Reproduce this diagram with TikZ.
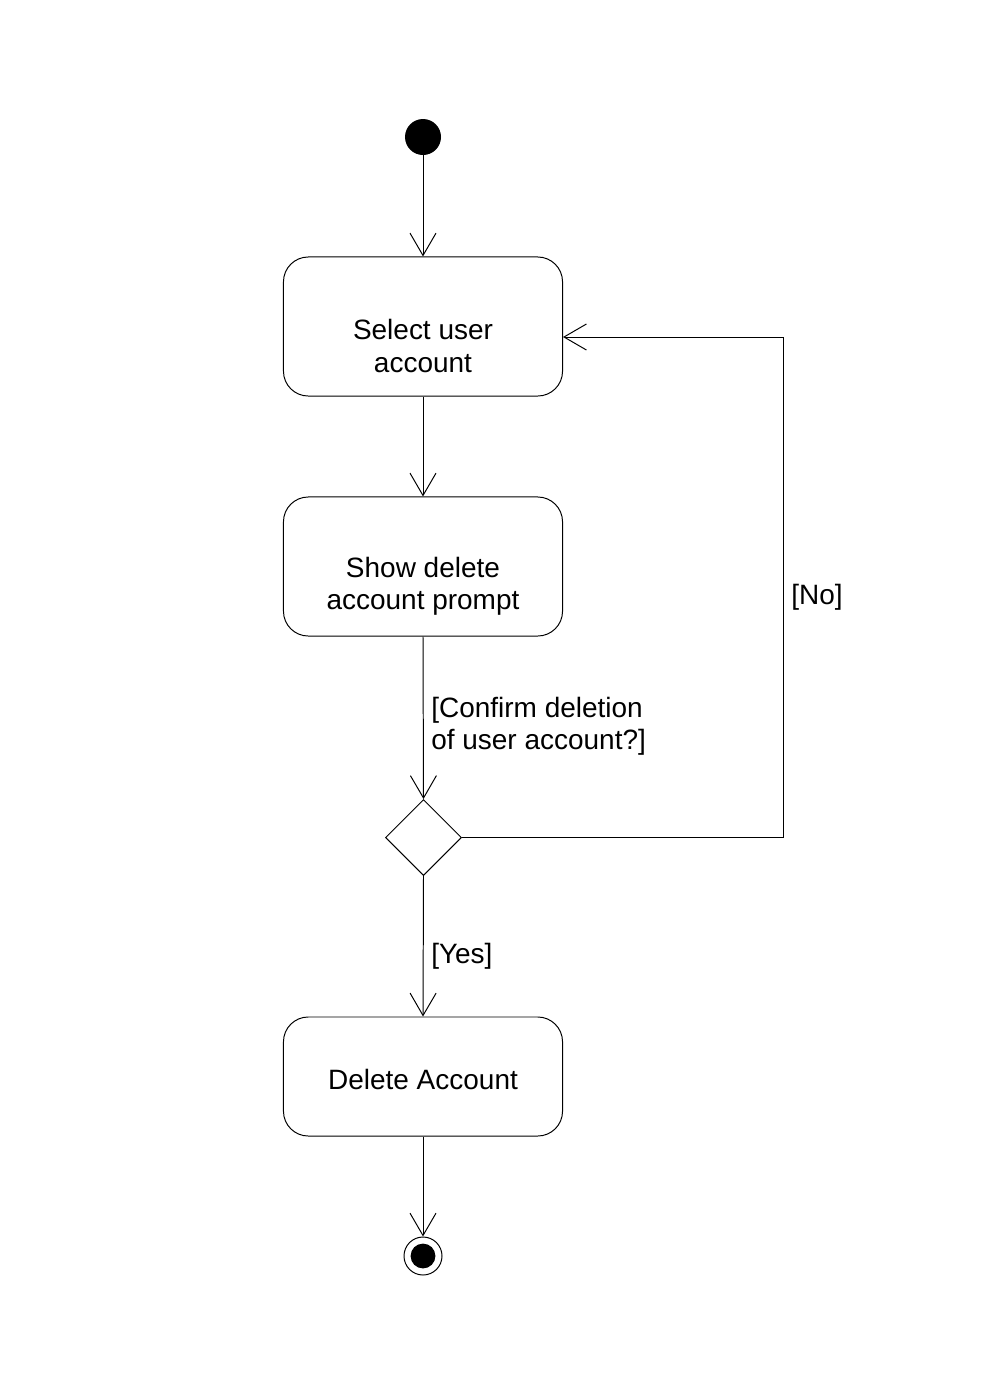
\documentclass[tikz,border=0pt]{standalone}
\usepackage{fontspec}
\setmainfont{Liberation Sans}
\usetikzlibrary{arrows.meta,shapes.geometric}
\begin{document}
\begin{tikzpicture}[x=0.025cm,y=-0.025cm,
  every node/.style={font=\fontsize{19.9}{22.8}\selectfont},
  line/.style={line width=0.7pt,black},
  flow/.style={line, -{Straight Barb[length=0.56cm,width=0.65cm,line width=0.7pt]}},
  actbox/.style={draw,line width=0.7pt,rounded corners=0.62cm,minimum width=6.975cm,minimum height=3.475cm,inner sep=0pt},
  txt/.style={align=center,inner sep=0pt},
  lbl/.style={align=left,inner sep=0pt,anchor=west}]
\useasboundingbox[fill=white] (0,0) rectangle (1007,1376);
\node[circle,fill=black,minimum size=0.9cm,inner sep=0pt] (init) at (423,137) {};
\node[actbox] (b1) at (423,326.5) {};
\node[txt] (t1) at (423,346) {Select user\\account};
\node[actbox] (b2) at (423,566.5) {};
\node[txt] (t2) at (423,586) {Show delete\\account prompt};
\node[diamond,draw,line width=0.7pt,minimum width=1.9cm,minimum height=1.9cm,inner sep=0pt] (dia) at (423.5,837.5) {};
\node[actbox,minimum height=2.975cm] (b3) at (423,1076.5) {};
\node[txt] (t3) at (423,1079) {Delete Account};
\node[circle,draw,line width=0.7pt,minimum size=0.95cm,inner sep=0pt] (fin) at (423,1256) {};
\node[circle,fill=black,minimum size=0.62cm,inner sep=0pt] (finin) at (423,1256) {};
\coordinate (c2) at (783,337);
\node[lbl] (lconf) at (431,726) {[Confirm deletion\\of user account?]};
\node[lbl] (lno) at (791,597) {[No]};
\node[lbl] (lyes) at (431,956) {[Yes]};
\draw[flow] (init.south) -- (b1.north);
\draw[flow] (b1.south) -- (b2.north);
\draw[flow] (b2.south) -- (dia.north);
\draw[flow] (dia.east) -| (c2) -- (c2 -| b1.east);
\draw[flow] (dia.south) -- (b3.north);
\draw[flow] (b3.south) -- (fin.north);
\end{tikzpicture}
\end{document}
